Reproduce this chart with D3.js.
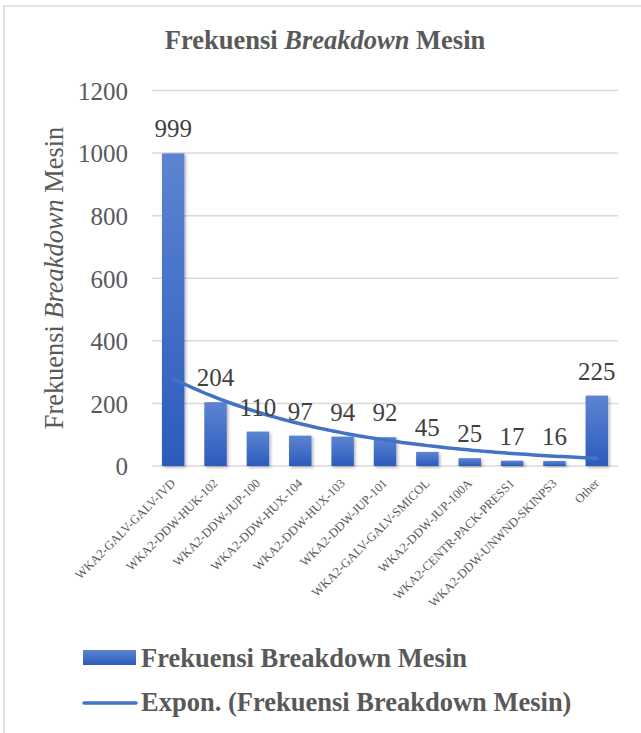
<!DOCTYPE html>
<html>
<head>
<meta charset="utf-8">
<script src="https://cdn.jsdelivr.net/npm/d3@7"></script>
<style>
  html, body { margin: 0; padding: 0; background: #fff; }
  svg { display: block; }
  svg text { font-family: "Liberation Serif", "Times New Roman", serif; }
</style>
</head>
<body>
<svg id="chart" width="641" height="733"></svg>
<script>
// Breakdown counts per machine
const categories = [
  "WKA2-GALV-GALV-IVD", "WKA2-DDW-HUK-102", "WKA2-DDW-JUP-100", "WKA2-DDW-HUX-104",
  "WKA2-DDW-HUX-103", "WKA2-DDW-JUP-101", "WKA2-GALV-GALV-SMICOL", "WKA2-DDW-JUP-100A",
  "WKA2-CENTR-PACK-PRESS1", "WKA2-DDW-UNWND-SKINPS3", "Other"
];
const values = [999, 204, 110, 97, 94, 92, 45, 25, 17, 16, 225];
const yTicks = [0, 200, 400, 600, 800, 1000, 1200];
const seriesName = "Frekuensi Breakdown Mesin";
const trendName = "Expon. (Frekuensi Breakdown Mesin)";

const svg = d3.select("#chart");
const W = 641, H = 733;
const plot = { left: 152, right: 618, top: 90.5, bottom: 466 };
const textGrey = "#595959";
const serif = "Liberation Serif, Times New Roman, serif";

// Outer chart border
svg.append("rect")
  .attr("x", 4).attr("y", 6).attr("width", W + 10).attr("height", H + 10)
  .attr("fill", "#fff").attr("stroke", "#d9d9d9").attr("stroke-width", 1.5);

const defs = svg.append("defs");
const grad = defs.append("linearGradient").attr("id", "barGrad")
  .attr("x1", 0).attr("y1", 0).attr("x2", 0).attr("y2", 1);
grad.append("stop").attr("offset", "0%").attr("stop-color", "#5d84d2");
grad.append("stop").attr("offset", "100%").attr("stop-color", "#2c5bbd");

const shadow = defs.append("filter").attr("id", "barShadow")
  .attr("x", "-30%").attr("y", "-10%").attr("width", "160%").attr("height", "130%");
shadow.append("feDropShadow").attr("dx", 1.5).attr("dy", 1.5)
  .attr("stdDeviation", 1.5).attr("flood-color", "#000").attr("flood-opacity", 0.3);

const x = d3.scaleBand().domain(categories).range([plot.left, plot.right]).paddingInner(0.47).paddingOuter(0.235);
const y = d3.scaleLinear().domain([0, 1200]).range([plot.bottom, plot.top]);

// Title
const title = svg.append("text")
  .attr("x", 325).attr("y", 49).attr("text-anchor", "middle")
  .attr("font-family", serif)
  .attr("font-size", 26.5).attr("font-weight", "bold").attr("fill", textGrey);
title.append("tspan").text("Frekuensi ");
title.append("tspan").attr("font-style", "italic").text("Breakdown");
title.append("tspan").text(" Mesin");

// Gridlines
svg.append("g").selectAll("line").data(yTicks).join("line")
  .attr("x1", plot.left).attr("x2", plot.right)
  .attr("y1", d => y(d)).attr("y2", d => y(d))
  .attr("stroke", "#d9d9d9").attr("stroke-width", 1.5);

// Y axis tick labels
const yAxis = d3.axisLeft(y).tickValues(yTicks).tickFormat(d3.format("d")).tickSize(0).tickPadding(0);
const yg = svg.append("g").attr("transform", `translate(128,0)`).call(yAxis)
  .attr("font-family", null).attr("font-size", null);
yg.select(".domain").remove();
yg.selectAll("text")
  .attr("font-family", serif)
  .attr("font-size", 25).attr("fill", textGrey).attr("dy", "0.35em");

// Y axis title
const yTitle = svg.append("text")
  .attr("transform", `translate(63,278) rotate(-90)`)
  .attr("text-anchor", "middle").attr("font-family", serif)
  .attr("font-size", 26.4).attr("fill", textGrey);
yTitle.append("tspan").text("Frekuensi ");
yTitle.append("tspan").attr("font-style", "italic").text("Breakdown");
yTitle.append("tspan").text(" Mesin");

// Bars
svg.append("g").selectAll("rect").data(values).join("rect")
  .attr("x", (d, i) => x(categories[i]))
  .attr("y", d => y(d))
  .attr("width", x.bandwidth())
  .attr("height", d => y(0) - y(d))
  .attr("fill", "url(#barGrad)")
  .attr("filter", "url(#barShadow)");

// Exponential trendline: least-squares fit of ln(value) against 1..n
const n = values.length;
const xs = d3.range(1, n + 1);
const lys = values.map(v => Math.log(v));
const mx = d3.mean(xs), my = d3.mean(lys);
const b = d3.sum(xs, (xi, i) => (xi - mx) * (lys[i] - my)) / d3.sum(xs, xi => (xi - mx) ** 2);
const a = my - b * mx;
const xi = d3.scaleLinear().domain([1, n])
  .range([x(categories[0]) + x.bandwidth() / 2, x(categories[n - 1]) + x.bandwidth() / 2]);
const trend = d3.range(1, n + 0.001, 0.1).map(t => [xi(t), y(Math.exp(a + b * t))]);
svg.append("path").datum(trend)
  .attr("d", d3.line())
  .attr("fill", "none").attr("stroke", "#4472c4").attr("stroke-width", 3.5)
  .attr("stroke-linecap", "round");

// Value labels
svg.append("g").selectAll("text").data(values).join("text")
  .attr("x", (d, i) => x(categories[i]) + x.bandwidth() / 2)
  .attr("y", d => y(d) - 16)
  .attr("text-anchor", "middle").attr("font-family", serif)
  .attr("font-size", 25).attr("fill", "#404040")
  .text(d => d);

// Category labels, rotated
svg.append("g").selectAll("text").data(categories).join("text")
  .attr("transform", d => `translate(${x(d) + x.bandwidth() / 2 + 3},484) rotate(-45)`)
  .attr("text-anchor", "end").attr("font-family", serif)
  .attr("font-size", 12.5).attr("fill", textGrey)
  .text(d => d);

// Legend
const legend = svg.append("g");
legend.append("rect").attr("x", 83).attr("y", 650).attr("width", 53).attr("height", 15)
  .attr("fill", "url(#barGrad)");
legend.append("text").attr("x", 141).attr("y", 667).attr("font-family", serif)
  .attr("font-size", 26.5).attr("font-weight", "bold").attr("fill", textGrey).text(seriesName);
legend.append("line").attr("x1", 84).attr("x2", 136).attr("y1", 703).attr("y2", 703)
  .attr("stroke", "#4472c4").attr("stroke-width", 3.5).attr("stroke-linecap", "round");
legend.append("text").attr("x", 141).attr("y", 711).attr("font-family", serif)
  .attr("font-size", 26.5).attr("font-weight", "bold").attr("fill", textGrey).text(trendName);
</script>
</body>
</html>
